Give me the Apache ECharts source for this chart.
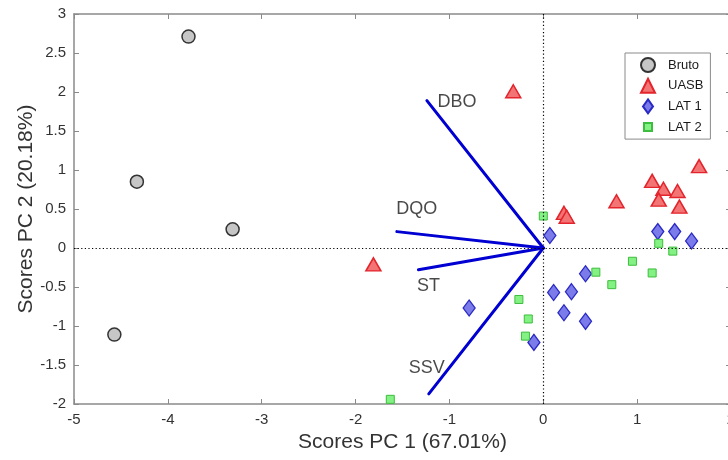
<!DOCTYPE html>
<html>
<head>
<meta charset="utf-8">
<script src="https://cdn.jsdelivr.net/npm/echarts@6/dist/echarts.min.js"></script>
<style>
html,body{margin:0;padding:0;background:#fff;}
#chart{width:728px;height:460px;}
</style>
</head>
<body>
<div id="chart"></div>
<script>
// ---- data ----
var brutoX = [-3.78, -4.33, -3.31, -4.57];
var brutoY = [2.71, 0.85, 0.24, -1.11];

var uasbX = [-0.32, -1.81, 0.22, 0.25, 0.78, 1.16, 1.28, 1.43, 1.23, 1.45, 1.66];
var uasbY = [2.01, -0.21, 0.45, 0.40, 0.60, 0.86, 0.76, 0.73, 0.62, 0.53, 1.05];

var lat1X = [0.07, 1.22, 1.40, 1.58, 0.45, 0.11, 0.30, 0.22, 0.45, -0.79, -0.10];
var lat1Y = [0.16, 0.21, 0.21, 0.09, -0.33, -0.57, -0.56, -0.83, -0.94, -0.77, -1.21];

var lat2X = [0.00, 1.23, 1.38, 0.95, 1.16, 0.56, 0.73, -0.26, -0.16, -0.19, -1.63];
var lat2Y = [0.41, 0.06, -0.04, -0.17, -0.32, -0.31, -0.47, -0.66, -0.91, -1.13, -1.94];

var loadingNames = ['DBO', 'DQO', 'ST', 'SSV'];
var loadingX = [-1.24, -1.56, -1.33, -1.22];
var loadingY = [1.89, 0.21, -0.28, -1.87];

var groupNames = ['Bruto', 'UASB', 'LAT 1', 'LAT 2'];
var xTicks = {min: -5, max: 2, interval: 1};
var yTicks = {min: -2, max: 3, interval: 0.5};

// ---- build ----
function pairs(xs, ys) { return xs.map(function (x, i) { return [x, ys[i]]; }); }

var FONT = '"Liberation Sans", Arial, sans-serif';
var axisColor = '#8a8a8a';
var labelColor = '#333333';

// label offsets for the loading labels (style only)
var loadingLabelOffset = {DBO: [30, 1], DQO: [20, -23], ST: [10, 16], SSV: [-2, -26]};

var series = [];

// zero reference lines
series.push({
  type: 'line', name: '_zero', data: [], z: 1, silent: true,
  xAxisIndex: 0, yAxisIndex: 0,
  markLine: {
    silent: true, symbol: ['none', 'none'], animation: false,
    label: {show: false},
    lineStyle: {color: '#000', width: 1.2, type: [1.2, 2.4]},
    data: [{xAxis: 0}, {yAxis: 0}]
  }
});

series.push({
  name: 'Bruto', type: 'scatter', data: pairs(brutoX, brutoY), z: 3,
  symbol: 'circle', symbolSize: 13,
  itemStyle: {color: '#c6c6c6', borderColor: '#333333', borderWidth: 1.5, opacity: 1}
});
series.push({
  name: 'UASB', type: 'scatter', data: pairs(uasbX, uasbY), z: 3,
  symbol: 'triangle', symbolSize: [15, 13],
  itemStyle: {color: '#f37474', borderColor: '#e3242c', borderWidth: 1.5, opacity: 1}
});
series.push({
  name: 'LAT 1', type: 'scatter', data: pairs(lat1X, lat1Y), z: 3,
  symbol: 'diamond', symbolSize: [12, 16],
  itemStyle: {color: '#7b7be9', borderColor: '#2a2ac4', borderWidth: 1.3, opacity: 1}
});
series.push({
  name: 'LAT 2', type: 'scatter', data: pairs(lat2X, lat2Y), z: 3,
  symbol: 'rect', symbolSize: 8,
  itemStyle: {color: '#84f184', borderColor: '#3dbd3d', borderWidth: 1, opacity: 1}
});

// loading vectors
loadingNames.forEach(function (nm, i) {
  series.push({
    name: '_vec_' + nm, type: 'line', z: 4, silent: true,
    data: [[0, 0], [loadingX[i], loadingY[i]]],
    symbol: 'none', animation: false,
    lineStyle: {color: '#0000d2', width: 3, cap: 'round'}
  });
});

// loading labels
series.push({
  name: '_labels', type: 'scatter', z: 5, silent: true,
  data: loadingNames.map(function (nm, i) {
    return {
      value: [loadingX[i], loadingY[i]], name: nm,
      label: {offset: loadingLabelOffset[nm]}
    };
  }),
  symbolSize: 1,
  itemStyle: {color: 'rgba(0,0,0,0)'},
  label: {
    show: true, position: 'inside', formatter: '{b}',
    fontFamily: FONT, fontSize: 18, color: '#1a1a1a',
    align: 'center', verticalAlign: 'middle'
  }
});

var legendIcons = {
  'Bruto': 'circle',
  'UASB': 'triangle',
  'LAT 1': 'path://M0,0M14,14M7,0L12,7L7,14L2,7Z',
  'LAT 2': 'path://M0,0M14,14M3,3h8v8h-8z'
};

var option = {
  animation: false,
  backgroundColor: '#ffffff',
  textStyle: {fontFamily: FONT},
  grid: {left: 74, top: 14, width: 657, height: 390, containLabel: false, outerBoundsMode: 'none'},
  legend: {
    data: groupNames.map(function (g) { return {name: g, icon: legendIcons[g]}; }),
    orient: 'vertical',
    left: 625, top: 53,
    padding: [4, 7, 4, 15],
    itemWidth: 14, itemHeight: 14, itemGap: 4.7,
    backgroundColor: '#ffffff',
    borderColor: '#8a8a8a', borderWidth: 1,
    textStyle: {fontFamily: FONT, fontSize: 13, color: '#1a1a1a', lineHeight: 14, padding: [0, 0, 0, 8]},
    selectedMode: false
  },
  xAxis: [{
    type: 'value', position: 'bottom',
    min: xTicks.min, max: xTicks.max, interval: xTicks.interval,
    name: 'Scores PC 1 (67.01%)', nameLocation: 'middle', nameGap: 28,
    nameTextStyle: {fontFamily: FONT, fontSize: 21, color: labelColor},
    axisLine: {show: true, onZero: false, lineStyle: {color: axisColor, width: 1.5}},
    axisTick: {show: true, inside: true, length: 5, lineStyle: {color: axisColor, width: 1}},
    axisLabel: {fontFamily: FONT, fontSize: 15, color: labelColor, margin: 8},
    splitLine: {show: false}
  }, {
    type: 'value', position: 'top',
    min: xTicks.min, max: xTicks.max, interval: xTicks.interval,
    axisLine: {show: true, onZero: false, lineStyle: {color: axisColor, width: 1.5}},
    axisTick: {show: true, inside: true, length: 5, lineStyle: {color: axisColor, width: 1}},
    axisLabel: {show: false},
    splitLine: {show: false}
  }],
  yAxis: [{
    type: 'value', position: 'left',
    min: yTicks.min, max: yTicks.max, interval: yTicks.interval,
    name: 'Scores PC 2 (20.18%)', nameLocation: 'middle', nameGap: 37, nameRotate: 90,
    nameMoveOverlap: false,
    nameTextStyle: {fontFamily: FONT, fontSize: 21, color: labelColor},
    axisLine: {show: true, onZero: false, lineStyle: {color: axisColor, width: 1.5}},
    axisTick: {show: true, inside: true, length: 5, lineStyle: {color: axisColor, width: 1}},
    axisLabel: {fontFamily: FONT, fontSize: 15, color: labelColor, margin: 8},
    splitLine: {show: false}
  }, {
    type: 'value', position: 'right',
    min: yTicks.min, max: yTicks.max, interval: yTicks.interval,
    axisLine: {show: true, onZero: false, lineStyle: {color: axisColor, width: 1.5}},
    axisTick: {show: true, inside: true, length: 5, lineStyle: {color: axisColor, width: 1}},
    axisLabel: {show: false},
    splitLine: {show: false}
  }],
  series: series
};

var chart = echarts.init(document.getElementById('chart'), null, {renderer: 'canvas'});
chart.setOption(option);
</script>
</body>
</html>
